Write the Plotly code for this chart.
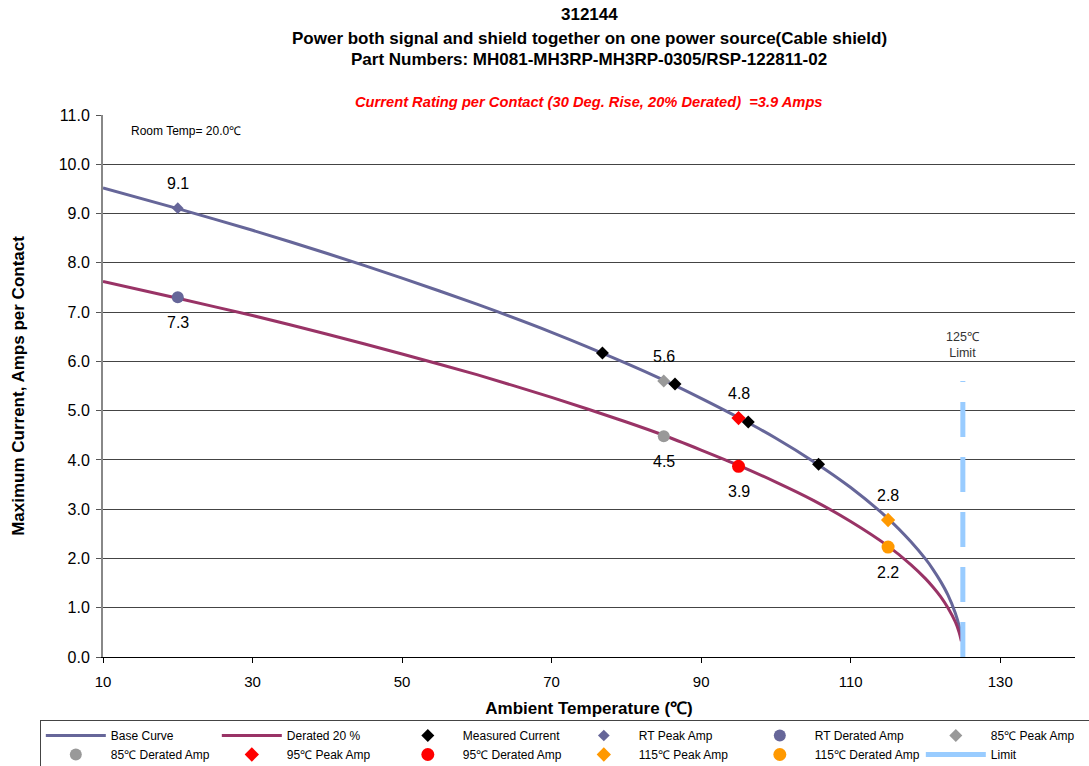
import plotly.graph_objects as go

# ---------------- data ----------------
temp_curve = [10, 20, 30, 40, 50, 60, 70, 80, 85, 90, 95, 100, 105, 110, 115, 118, 120, 121, 122, 123, 124, 124.5, 124.8]
base_curve = [9.52, 9.10, 8.66, 8.19, 7.69, 7.16, 6.59, 5.96, 5.62, 5.25, 4.86, 4.44, 3.97, 3.44, 2.81, 2.35, 1.99, 1.78, 1.54, 1.26, 0.89, 0.63, 0.40]
derated_curve = [7.62, 7.28, 6.93, 6.55, 6.15, 5.73, 5.27, 4.77, 4.50, 4.20, 3.89, 3.55, 3.18, 2.75, 2.25, 1.88, 1.59, 1.42, 1.23, 1.00, 0.71, 0.50, 0.32]

measured_temp = [76.8, 86.5, 96.3, 105.7]
measured_current = [6.17, 5.54, 4.77, 3.91]

point_names = ["RT Peak Amp", "RT Derated Amp", "85℃ Peak Amp", "85℃ Derated Amp",
               "95℃ Peak Amp", "95℃ Derated Amp", "115℃ Peak Amp", "115℃ Derated Amp"]
point_temp = [20, 20, 85, 85, 95, 95, 115, 115]
point_amp = [9.11, 7.30, 5.60, 4.48, 4.85, 3.87, 2.78, 2.23]
point_labels = ["9.1", "7.3", "5.6", "4.5", "4.8", "3.9", "2.8", "2.2"]

limit_temp = [125, 125]
limit_amp = [0, 5.6]

x_ticks = [10, 30, 50, 70, 90, 110, 130]
y_ticks = [0, 1, 2, 3, 4, 5, 6, 7, 8, 9, 10, 11]

# ---------------- styles ----------------
FONT = "Liberation Sans, Arial, Helvetica, sans-serif"
point_colors = ["#666699", "#666699", "#999999", "#999999", "#FF0000", "#FF0000", "#FF9900", "#FF9900"]
point_symbols = ["diamond", "circle"] * 4
point_sizes = [9, 12, 10, 12, 11, 13, 11, 13]

fig = go.Figure()
fig.add_trace(go.Scatter(x=temp_curve, y=base_curve, mode="lines", name="Base Curve",
                         line=dict(color="#666699", width=3, shape="spline", smoothing=0.6)))
fig.add_trace(go.Scatter(x=temp_curve, y=derated_curve, mode="lines", name="Derated 20 %",
                         line=dict(color="#993366", width=3, shape="spline", smoothing=0.6)))
fig.add_trace(go.Scatter(x=measured_temp, y=measured_current, mode="markers", name="Measured Current",
                         marker=dict(symbol="diamond", color="black", size=10)))
for i in range(len(point_names)):
    fig.add_trace(go.Scatter(x=[point_temp[i]], y=[point_amp[i]], mode="markers", name=point_names[i],
                             marker=dict(symbol=point_symbols[i], color=point_colors[i], size=point_sizes[i])))
# limit line (dashed on the chart, solid swatch in the legend)
fig.add_trace(go.Scatter(x=limit_temp, y=limit_amp, mode="lines", name="Limit", showlegend=False,
                         legendgroup="limit",
                         line=dict(color="#99CCFF", width=5, dash="35px,20px")))
fig.add_trace(go.Scatter(x=[None], y=[None], mode="lines", name="Limit", legendgroup="limit",
                         line=dict(color="#99CCFF", width=5)))

# data labels
for i in range(len(point_labels)):
    fig.add_annotation(x=point_temp[i], y=point_amp[i], text=point_labels[i], showarrow=False,
                       yshift=25 if i % 2 == 0 else -25,
                       font=dict(family=FONT, size=16, color="black"))

# titles and notes
title_lines = ["312144",
               "Power both signal and shield together on one power source(Cable shield)",
               "Part Numbers: MH081-MH3RP-MH3RP-0305/RSP-122811-02"]
title_shifts = [89, 65, 44]
for line, shift in zip(title_lines, title_shifts):
    fig.add_annotation(xref="paper", yref="paper", x=0.5, y=1.0, yanchor="bottom", yshift=shift,
                       text="<b>" + line + "</b>", showarrow=False,
                       font=dict(family=FONT, size=17, color="black"))
fig.add_annotation(xref="paper", yref="paper", x=0.5, y=1.0, yanchor="bottom", yshift=3,
                   text="<b><i>Current Rating per Contact (30 Deg. Rise, 20% Derated)  =3.9 Amps</i></b>",
                   showarrow=False, font=dict(family=FONT, size=14.7, color="#FF0000"))
fig.add_annotation(x=13.5, y=10.67, xanchor="left", text="Room Temp= 20.0℃", showarrow=False,
                   font=dict(family=FONT, size=12, color="black"))
fig.add_annotation(x=125, y=6.33, text="125℃<br>Limit", showarrow=False,
                   font=dict(family=FONT, size=12.5, color="#333333"))

fig.update_layout(
    width=1089, height=766,
    margin=dict(l=103, r=14, t=115, b=109, autoexpand=False),
    paper_bgcolor="white", plot_bgcolor="white",
    font=dict(family=FONT, size=15, color="black"),
    showlegend=True,
    legend=dict(orientation="h", x=-0.065, y=-0.1162, xanchor="left", yanchor="top",
                bordercolor="#444444", borderwidth=1, bgcolor="white",
                font=dict(family=FONT, size=12, color="black"),
                itemwidth=60, entrywidth=101, entrywidthmode="pixels",
                tracegroupgap=0, traceorder="normal"),
    xaxis=dict(range=[10, 140], tickvals=x_ticks, showgrid=False, zeroline=False,
               showline=True, linecolor="black", linewidth=1, ticks="outside", ticklen=5,
               tickcolor="black", tickfont=dict(size=15), ticklabelstandoff=6,
               title=dict(text="<b>Ambient Temperature (℃)</b>", font=dict(size=17), standoff=13)),
    yaxis=dict(range=[0, 11], tickvals=y_ticks, tickformat=".1f", showgrid=True,
               gridcolor="#444444", gridwidth=1, zeroline=False,
               showline=True, linecolor="#888888", linewidth=2, ticks="outside", ticklen=5,
               tickcolor="#555555", tickfont=dict(size=16), ticklabelstandoff=3,
               title=dict(text="<b>Maximum Current, Amps per Contact</b>", font=dict(size=17), standoff=30)),
)

fig.write_html("out.html")
